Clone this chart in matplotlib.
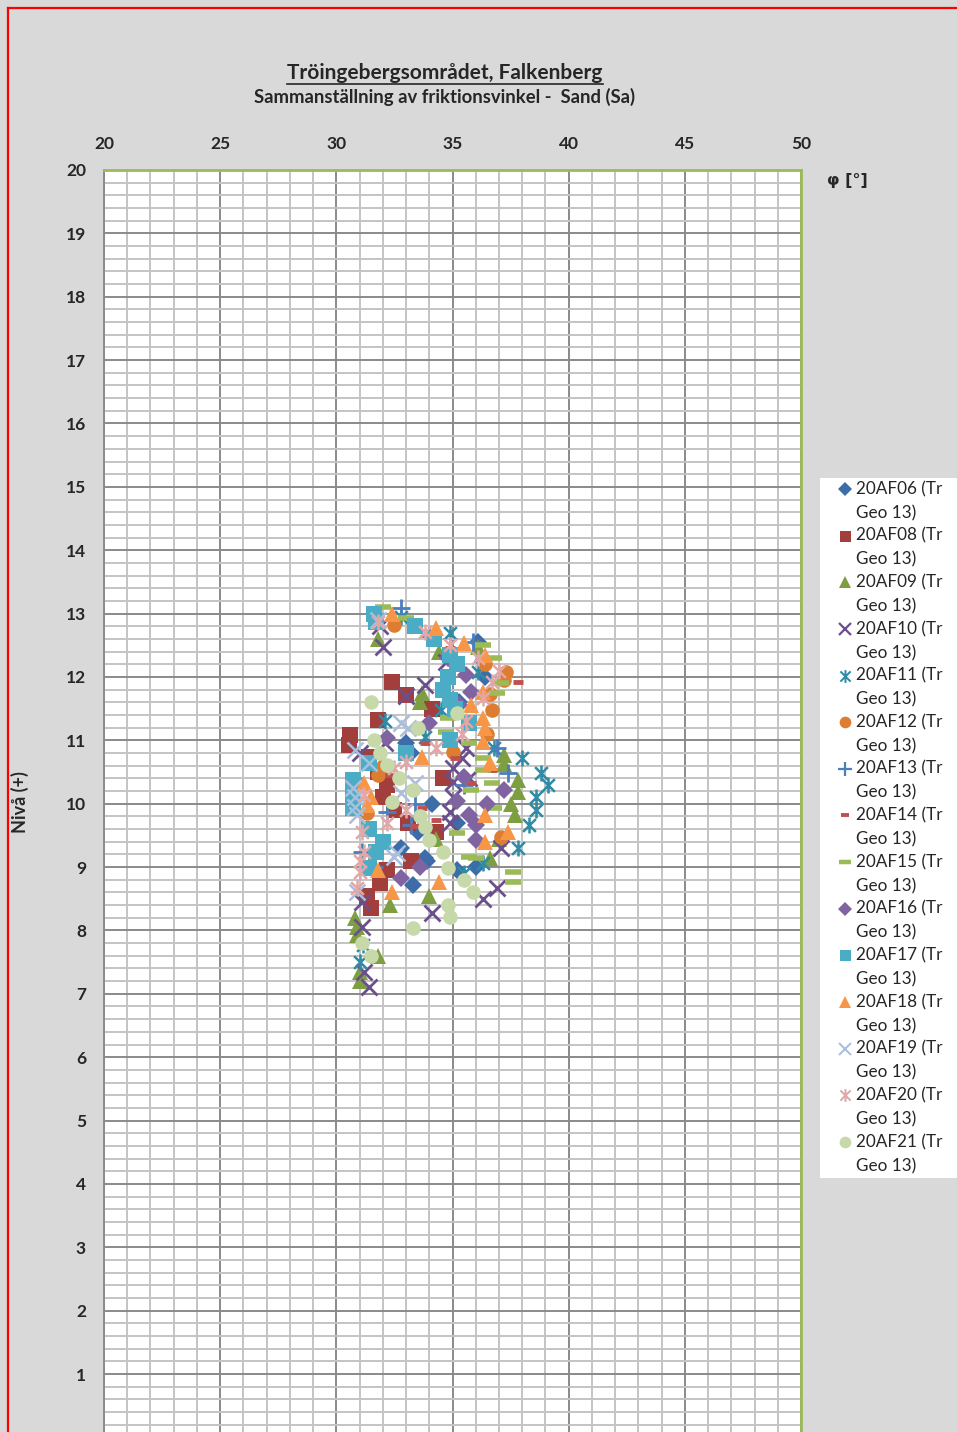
import matplotlib
matplotlib.use('Agg')
import matplotlib.pyplot as plt
from matplotlib.path import Path
from matplotlib.lines import Line2D
from matplotlib.patches import Rectangle
from matplotlib.ticker import MultipleLocator

# ---------------- data ----------------
title = "Tröingebergsområdet, Falkenberg"
subtitle = "Sammanställning av friktionsvinkel -  Sand (Sa)"
x_label = "φ [°]"
y_label = "Nivå (+)"
x_ticks = [20, 25, 30, 35, 40, 45, 50]
y_ticks = list(range(0, 21))

series_names = ["20AF06", "20AF08", "20AF09", "20AF10", "20AF11", "20AF12", "20AF13",
                "20AF14", "20AF15", "20AF16", "20AF17", "20AF18", "20AF19", "20AF20", "20AF21"]

af06_x = [36.1, 36.3, 36.4, 35.3, 33.0, 33.2, 34.1, 35.2, 33.5, 32.8, 33.8, 33.3, 35.2, 36.0, 33.9]
af06_y = [12.55, 12.25, 12.0, 11.6, 10.95, 10.8, 10.0, 9.7, 9.55, 9.3, 9.15, 8.72, 8.95, 9.0, 9.1]

af08_x = [32.4, 33.0, 34.1, 31.8, 30.6, 30.55, 31.4, 31.8, 32.2, 32.0, 32.5, 33.1, 34.3, 33.2, 32.2, 31.9, 31.5, 31.3, 34.6]
af08_y = [11.92, 11.72, 11.5, 11.32, 11.08, 10.93, 10.74, 10.5, 10.3, 10.1, 9.9, 9.7, 9.55, 9.1, 8.95, 8.75, 8.36, 8.55, 10.4]

af09_x = [31.8, 34.4, 36.1, 33.7, 33.6, 37.2, 37.2, 37.8, 37.8, 37.5, 37.7, 37.0, 36.6, 34.3, 34.0, 32.3, 30.8, 30.9, 31.8, 31.0, 31.0, 30.9]
af09_y = [12.6, 12.4, 12.47, 11.75, 11.6, 10.77, 10.62, 10.37, 10.18, 10.0, 9.82, 9.45, 9.15, 9.45, 8.55, 8.4, 8.2, 7.93, 7.6, 7.35, 7.2, 8.05]

af10_x = [32.0, 31.9, 33.8, 33.0, 34.7, 35.0, 35.0, 35.0, 34.9, 34.9, 35.4, 35.6, 31.0, 37.1, 34.1, 36.3, 36.9, 31.1, 31.1, 31.2, 31.4, 32.1, 35.7]
af10_y = [12.47, 12.8, 11.87, 11.7, 12.24, 10.56, 10.34, 10.1, 9.87, 9.7, 10.72, 10.88, 10.8, 9.3, 8.28, 8.5, 8.67, 8.45, 8.05, 7.35, 7.1, 10.95, 10.4]

af11_x = [34.9, 36.1, 32.1, 34.5, 33.8, 36.8, 38.0, 38.8, 39.1, 38.6, 38.6, 38.3, 37.8, 36.3, 35.5, 31.15, 31.0, 32.8]
af11_y = [12.7, 12.08, 11.3, 11.48, 11.05, 10.88, 10.72, 10.48, 10.29, 10.1, 9.9, 9.66, 9.3, 9.06, 8.9, 7.77, 7.5, 12.95]

af12_x = [32.5, 37.3, 37.2, 36.6, 36.7, 31.8, 31.3, 35.0, 37.1, 36.5, 36.4, 32.0]
af12_y = [12.82, 12.08, 11.95, 11.73, 11.48, 10.45, 9.85, 10.82, 9.48, 11.1, 12.2, 10.6]

af13_x = [32.8, 36.9, 37.4, 35.5, 33.2, 33.4, 32.2, 31.1, 35.9, 34.0, 31.6]
af13_y = [13.09, 10.88, 10.49, 10.3, 9.66, 10.0, 9.87, 9.24, 12.55, 12.65, 9.0]

af14_x = [37.8, 33.8, 33.7, 34.3, 35.1, 35.8, 36.7, 34.9, 33.4, 32.3]
af14_y = [11.92, 10.96, 9.93, 9.75, 10.72, 10.33, 10.53, 12.45, 9.65, 10.45]

af15_x = [32.0, 33.0, 36.3, 36.8, 37.1, 36.9, 34.8, 34.7, 35.7, 36.3, 36.3, 36.7, 35.8, 36.8, 35.2, 35.7, 37.6, 37.6, 36.0]
af15_y = [13.1, 12.93, 12.5, 12.3, 11.9, 11.75, 11.35, 11.13, 10.96, 10.72, 10.53, 10.33, 10.22, 9.93, 9.54, 9.16, 8.92, 8.77, 9.15]

af16_x = [35.6, 35.8, 35.3, 34.0, 32.2, 35.5, 37.2, 36.5, 36.0, 35.7, 36.0, 33.6, 32.8, 34.8, 35.2]
af16_y = [12.03, 11.76, 11.55, 11.28, 11.04, 10.42, 10.22, 10.0, 9.43, 9.82, 9.66, 9.0, 8.83, 12.3, 10.05]

af17_x = [31.6, 31.7, 33.4, 34.2, 34.9, 35.2, 34.8, 34.6, 34.9, 35.1, 35.7, 34.9, 33.0, 31.4, 30.7, 30.7, 30.7, 31.4, 32.0, 31.7, 31.4, 30.7, 30.8]
af17_y = [13.0, 12.87, 12.8, 12.6, 12.35, 12.2, 12.0, 11.8, 11.64, 11.5, 11.28, 11.0, 10.8, 10.64, 10.37, 10.2, 9.94, 9.6, 9.4, 9.24, 8.98, 10.05, 10.3]

af18_x = [32.4, 34.3, 35.5, 36.4, 36.3, 35.8, 36.3, 36.4, 36.3, 33.7, 31.2, 31.3, 36.4, 36.6, 37.4, 36.4, 31.8, 32.4, 34.4, 31.5]
af18_y = [13.0, 12.78, 12.53, 12.35, 11.76, 11.55, 11.35, 11.2, 10.98, 10.74, 10.33, 9.98, 9.82, 10.64, 9.55, 9.4, 8.95, 8.6, 8.76, 10.1]

af19_x = [32.8, 30.8, 30.7, 30.8, 30.8, 30.9, 31.4, 32.8, 33.4, 32.6, 32.5, 30.9, 33.1, 31.8]
af19_y = [11.28, 10.85, 10.25, 10.1, 9.95, 9.82, 10.64, 10.17, 10.33, 9.22, 9.16, 8.6, 11.2, 12.9]

af20_x = [31.8, 33.8, 34.9, 36.1, 37.0, 36.7, 36.3, 34.3, 35.4, 33.0, 32.5, 31.2, 33.0, 32.2, 31.1, 31.2, 31.0, 30.9, 35.6, 31.0]
af20_y = [12.87, 12.71, 12.5, 12.3, 12.1, 11.92, 11.67, 10.88, 11.1, 10.66, 10.56, 10.14, 9.9, 9.7, 9.55, 9.24, 8.92, 8.67, 11.3, 9.1]

af21_x = [31.5, 33.5, 35.2, 31.6, 31.9, 32.2, 32.7, 33.3, 32.4, 33.6, 33.8, 34.0, 34.6, 34.8, 35.5, 35.9, 34.8, 34.9, 33.3, 31.1, 31.5]
af21_y = [11.6, 11.2, 11.43, 11.0, 10.8, 10.61, 10.4, 10.22, 10.03, 9.8, 9.63, 9.43, 9.24, 8.99, 8.8, 8.6, 8.4, 8.21, 8.04, 7.8, 7.6]

series_x = [af06_x, af08_x, af09_x, af10_x, af11_x, af12_x, af13_x, af14_x,
            af15_x, af16_x, af17_x, af18_x, af19_x, af20_x, af21_x]
series_y = [af06_y, af08_y, af09_y, af10_y, af11_y, af12_y, af13_y, af14_y,
            af15_y, af16_y, af17_y, af18_y, af19_y, af20_y, af21_y]

# ---------------- styles ----------------
asterisk = Path([(-1, -1), (1, 1), (-1, 1), (1, -1), (0, -1.25), (0, 1.25)],
                [Path.MOVETO, Path.LINETO, Path.MOVETO, Path.LINETO, Path.MOVETO, Path.LINETO])

styles = [
    dict(marker='D', color='#3C6DA9', ms=9, mew=0),
    dict(marker='s', color='#A23E3B', ms=11, mew=0),
    dict(marker='^', color='#7E9E42', ms=11.5, mew=0),
    dict(marker='x', color='#6A4F8C', ms=11, mew=2.0),
    dict(marker=asterisk, color='#2F8BA6', ms=11.5, mew=1.8),
    dict(marker='o', color='#DD7D32', ms=10.5, mew=0),
    dict(marker='+', color='#4A7EBD', ms=13, mew=2.0),
    dict(marker='_', color='#C0504D', ms=7, mew=3.5),
    dict(marker='_', color='#9BBB59', ms=11.5, mew=4.0),
    dict(marker='D', color='#8064A2', ms=9, mew=0),
    dict(marker='s', color='#4BACC6', ms=11, mew=0),
    dict(marker='^', color='#F79646', ms=11.5, mew=0),
    dict(marker='x', color='#A9BFDD', ms=11, mew=1.8),
    dict(marker=asterisk, color='#E2A7A6', ms=11.5, mew=1.8),
    dict(marker='o', color='#C7D9A8', ms=10.5, mew=0),
]
legend_scale = [0.8, 0.72, 0.8, 0.85, 0.8, 0.8, 0.8, 0.75, 0.75, 0.8, 0.72, 0.8, 0.85, 0.8, 0.8]

W, H = 957, 1432
BG = '#D9D9D9'
FONT = ['Lato', 'DejaVu Sans']
plt.rcParams['font.family'] = FONT

fig = plt.figure(figsize=(W / 100, H / 100), dpi=100, facecolor=BG)

def fx(px):
    return px / W

def fy(py):
    return 1 - py / H

ax_left, ax_right = 104, 801
ax_top, ax_y0 = 170, 1437.4
ax = fig.add_axes([fx(ax_left), fy(ax_y0), fx(ax_right - ax_left), (ax_y0 - ax_top) / H])
ax.set_facecolor('white')
ax.set_xlim(20, 50)
ax.set_ylim(0, 20)
ax.xaxis.set_major_locator(MultipleLocator(5))
ax.xaxis.set_minor_locator(MultipleLocator(1))
ax.yaxis.set_major_locator(MultipleLocator(1))
ax.yaxis.set_minor_locator(MultipleLocator(0.2))
ax.set_xticks(x_ticks)
ax.set_yticks(y_ticks)
ax.xaxis.tick_top()
ax.tick_params(axis='both', which='both', length=0)
ax.tick_params(axis='x', pad=13, labelsize=12.5, labelcolor='#262626')
ax.tick_params(axis='y', pad=13, labelsize=12.5, labelcolor='#262626')
for lab in ax.get_xticklabels() + ax.get_yticklabels():
    lab.set_fontweight('bold')
ax.grid(which='minor', color='#C4C4C4', linewidth=1.4)
ax.grid(which='major', color='#8A8A8A', linewidth=1.4)
ax.set_axisbelow(True)
ax.spines['left'].set_color('#8A8A8A')
ax.spines['left'].set_linewidth(1.4)
ax.spines['top'].set_color('#9BBB59')
ax.spines['top'].set_linewidth(2)
ax.spines['right'].set_color('#9BBB59')
ax.spines['right'].set_linewidth(2)
ax.spines['bottom'].set_visible(False)

for xs, ys, st in zip(series_x, series_y, styles):
    ax.plot(xs, ys, linestyle='none', marker=st['marker'], color=st['color'],
            markersize=st['ms'], markeredgewidth=st['mew'],
            markeredgecolor=st['color'], zorder=3, clip_on=False)

# titles
t1 = fig.text(fx(445), fy(73), title, ha='center', va='center', fontsize=15,
              fontweight='bold', color='#262626')
fig.text(fx(444), fy(97), subtitle, ha='center', va='center', fontsize=13.3,
         fontweight='bold', color='#262626')
fig.text(fx(847), fy(180), x_label, ha='center', va='center', fontsize=11.5,
         fontweight='bold', color='#262626', family=['DejaVu Sans'])
fig.text(fx(20), fy(802), y_label, ha='center', va='center', rotation=90,
         fontsize=13, fontweight='bold', color='#262626')

# legend (manual, Excel style)
fig.add_artist(Rectangle((fx(820), fy(1178)), fx(140), 700 / H, transform=fig.transFigure,
                         facecolor='white', edgecolor='none', zorder=1))
for i, (name, st) in enumerate(zip(series_names, styles)):
    yy = 489 + i * 46.64
    fig.add_artist(Line2D([fx(845)], [fy(yy)], transform=fig.transFigure, linestyle='none',
                          marker=st['marker'], color=st['color'], markeredgecolor=st['color'],
                          markersize=st['ms'] * legend_scale[i], markeredgewidth=st['mew'] * 0.8,
                          zorder=2))
    fig.text(fx(856), fy(yy), name + " (Tr", ha='left', va='center', fontsize=12.3,
             color='#262626', zorder=3)
    fig.text(fx(856), fy(yy + 24), "Geo 13)", ha='left', va='center', fontsize=12.3,
             color='#262626', zorder=3)

# red frame on the left and top edges
fig.add_artist(Line2D([fx(8), fx(8)], [0, fy(8)], transform=fig.transFigure, color='#FF0000', lw=1.6))
fig.add_artist(Line2D([fx(8), 1], [fy(8), fy(8)], transform=fig.transFigure, color='#FF0000', lw=1.6))

# underline title
fig.canvas.draw()
bb = t1.get_window_extent()
fig.add_artist(Line2D([bb.x0 / W, bb.x1 / W], [(bb.y0 - 1) / H, (bb.y0 - 1) / H],
                      transform=fig.transFigure, color='#262626', lw=1.2))

fig.savefig('out.png', dpi=100, facecolor=BG)
